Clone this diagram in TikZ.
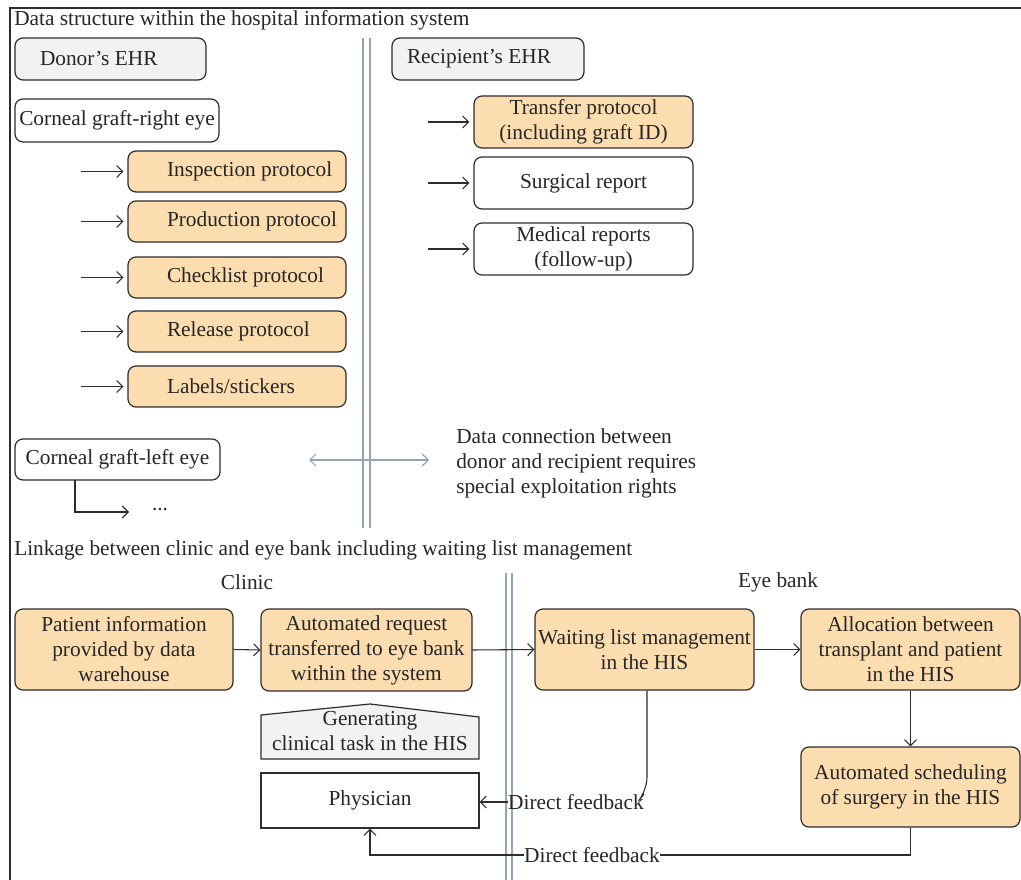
\documentclass[tikz,border=0pt]{standalone}
\usepackage{fontspec}
\setmainfont{Liberation Serif}
\usetikzlibrary{arrows.meta,calc}
\definecolor{orng}{RGB}{252,221,176}
\definecolor{gbox}{RGB}{242,242,242}
\definecolor{edge}{RGB}{45,45,45}
\definecolor{sepc}{RGB}{145,165,180}
\newlength\bw
\newlength\bh
% box with centred text: style, name, x1, y1, x2, y2, text
\newcommand\cbx[7]{\pgfmathsetlength\bw{(#5-#3)*0.75pt}\pgfmathsetlength\bh{(#6-#4)*0.75pt}%
  \node[#1, minimum width=\bw, minimum height=\bh] (#2) at ({(#3+#5)/2},{(#4+#6)/2}) {#7};}
% box with left-aligned text: style, name, x1, y1, x2, y2, inset(px), text
\newcommand\lbx[8]{\pgfmathsetlength\bw{(#5-#3)*0.75pt}\pgfmathsetlength\bh{(#6-#4)*0.75pt}%
  \node[#1, minimum width=\bw, minimum height=\bh, inner sep=0pt] (#2) at ({(#3+#5)/2},{(#4+#6)/2})
  {\makebox[\bw][l]{\hspace*{\dimexpr #7pt*3/4\relax}#8}};}
\begin{document}
\begin{tikzpicture}[x=0.75pt,y=-0.75pt,
  font=\fontsize{16}{18.75}\selectfont,
  box/.style={draw=edge, line width=0.9pt, rounded corners=6pt, inner sep=1pt, align=center, text=black!85},
  obox/.style={box, fill=orng},
  gbx/.style={box, fill=gbox},
  wbox/.style={box, fill=white},
  tip/.style={Straight Barb[length=4.5pt,width=9pt,line width=0.7pt]},
  arr/.style={draw=edge, line width=0.8pt, -{Straight Barb[length=4.5pt,width=9pt]}},
  ln/.style={draw=edge, line width=0.8pt},
  sepl/.style={draw=sepc, line width=1pt},
  txt/.style={inner sep=0pt, text=black!85, align=left}
]
\useasboundingbox (0,0) rectangle (1021,880);
% frame
\draw[ln, line width=1.1pt] (1021,8) -- (10,8) -- (10,880);
% separators
\draw[sepl] (363,38) -- (363,528);
\draw[sepl] (370,38) -- (370,528);
\draw[sepl] (506,573) -- (506,880);
\draw[sepl] (512,573) -- (512,880);

% ---------- upper part
\node[txt, anchor=west] (t1) at (14,20) {Data structure within the hospital information system};
\lbx{gbx}{donor}{15}{38}{206}{80}{25}{Donor’s EHR}
\lbx{gbx}{recip}{392}{38}{584}{80}{15}{Recipient’s EHR}
\cbx{wbox}{cr}{15}{99}{219}{142}{Corneal graft-right eye}

\lbx{obox}{p1}{128}{151}{346}{192}{39}{Inspection protocol}
\lbx{obox}{p2}{128}{201}{346}{242}{39}{Production protocol}
\lbx{obox}{p3}{128}{257}{346}{298}{39}{Checklist protocol}
\lbx{obox}{p4}{128}{311}{346}{352}{39}{Release protocol}
\lbx{obox}{p5}{128}{366}{346}{407}{39}{Labels/stickers}
\foreach \n in {p1,p2,p3,p4,p5}{
  \draw[arr] ([xshift=-46*0.75pt]\n.west) -- ([xshift=-4*0.75pt]\n.west);
}

\cbx{obox}{tp}{474}{96}{693}{148}{Transfer protocol\\(including graft ID)}
\cbx{wbox}{sr}{474}{157}{693}{209}{Surgical report}
\cbx{wbox}{mr}{474}{223}{693}{275}{Medical reports\\(follow-up)}
\foreach \n in {tp,sr,mr}{
  \draw[arr] ([xshift=-45*0.75pt]\n.west) -- ([xshift=-4*0.75pt]\n.west);
}

\cbx{wbox}{cl}{15}{439}{220}{480}{Corneal graft-left eye}
\node[txt] (dots) at (160,510) {...};
\coordinate (clb) at (75,480);
\coordinate (dend) at (129,512);
\draw[arr] (clb) |- (dend);

\coordinate (da) at (309,460);
\coordinate (db) at (429,460);
\draw[draw=sepc, line width=0.9pt, {Straight Barb[length=4.5pt,width=9pt]}-{Straight Barb[length=4.5pt,width=9pt]}] (da) -- (db);
\node[txt, anchor=west, align=left] (dc) at (456,463) {Data connection between\\donor and recipient requires\\special exploitation rights};

% ---------- lower part
\node[txt, anchor=west] (t2) at (14,550) {Linkage between clinic and eye bank including waiting list management};
\node[txt] (clinic) at (247,582) {Clinic};
\node[txt] (eyebank) at (778,582) {Eye bank};

\cbx{obox}{pi}{15}{609}{233}{690}{Patient information\\provided by data\\warehouse}
\cbx{obox}{ar}{261}{609}{472}{691}{Automated request\\transferred to eye bank\\within the system}
\cbx{obox}{wl}{535}{609}{754}{690}{Waiting list management\\in the HIS}
\cbx{obox}{al}{801}{609}{1020}{690}{Allocation between\\transplant and patient\\in the HIS}
\cbx{obox}{sc}{801}{747}{1020}{827}{Automated scheduling\\of surgery in the HIS}

\draw[fill=gbox, draw=edge, line width=0.9pt] (261,759) -- (261,715) -- (370,704) -- (479,717) -- (479,759) -- cycle;
\node[txt, align=center] (gen) at (370,731) {Generating\\clinical task in the HIS};
\pgfmathsetlength\bw{218*0.75pt}\pgfmathsetlength\bh{55*0.75pt}
\node[box, rounded corners=0pt, fill=white, minimum width=\bw, minimum height=\bh] (ph) at (370,800.5) {Physician};

\draw[arr] (pi.east) -- (ar.west);
\draw[arr] (ar.east) -- (wl.west);
\draw[arr] (wl.east) -- (al.west);
\draw[arr] (al.south) -- (sc.north);

\node[txt] (fb1) at (576,802) {Direct feedback};
\draw[ln, rounded corners=10pt] ([xshift=2.5*0.75pt]wl.south) -- ++(0,100*-0.75pt) -- (fb1.north east);
\draw[arr] (fb1.west) -- (fb1.west -| ph.east);

\node[txt] (fb2) at (592,855) {Direct feedback};
\draw[ln] (sc.south) |- (fb2.east);
\draw[arr] (fb2.west) -| (ph.south);
\end{tikzpicture}
\end{document}
